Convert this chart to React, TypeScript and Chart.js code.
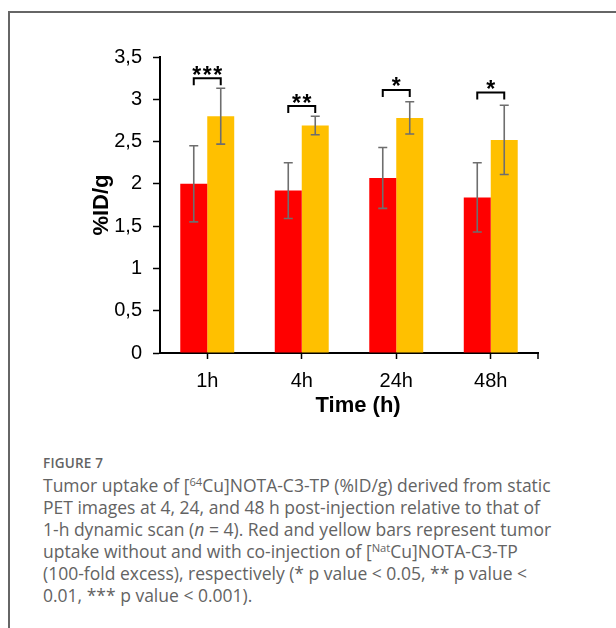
import React, { useEffect, useRef } from "react";
import { Chart, registerables } from "chart.js";

Chart.register(...registerables);

const categories = ["1h", "4h", "24h", "48h"];
const redValues = [2.0, 1.92, 2.07, 1.84];
const redErrors = [0.45, 0.33, 0.36, 0.41];
const yellowValues = [2.8, 2.69, 2.78, 2.52];
const yellowErrors = [0.33, 0.11, 0.19, 0.41];
const significance = ["***", "**", "*", "*"];
const bracketLevels = [3.25, 2.92, 3.11, 3.08];
const yTicks = [0, 0.5, 1, 1.5, 2, 2.5, 3, 3.5];
const yTitle = "%ID/g";
const xTitle = "Time (h)";

const FONT = "'Liberation Sans', Arial, sans-serif";

const overlayPlugin = {
  id: "overlay",
  afterDraw(chart: any) {
    const ctx: CanvasRenderingContext2D = chart.ctx;
    const ys = chart.scales.y;
    const area = chart.chartArea;
    ctx.save();

    // error bars
    const sets: [number[], number[]][] = [
      [redValues, redErrors],
      [yellowValues, yellowErrors],
    ];
    sets.forEach(([vals, errs], di) => {
      const meta = chart.getDatasetMeta(di);
      meta.data.forEach((bar: any, i: number) => {
        const cx = bar.x;
        const top = ys.getPixelForValue(vals[i] + errs[i]);
        const bot = ys.getPixelForValue(vals[i] - errs[i]);
        ctx.strokeStyle = "#6e6e6e";
        ctx.lineWidth = 1.6;
        ctx.beginPath();
        ctx.moveTo(cx, top);
        ctx.lineTo(cx, bot);
        ctx.moveTo(cx - 4.5, top);
        ctx.lineTo(cx + 4.5, top);
        ctx.moveTo(cx - 4.5, bot);
        ctx.lineTo(cx + 4.5, bot);
        ctx.stroke();
      });
    });

    // significance brackets
    const m0 = chart.getDatasetMeta(0);
    const m1 = chart.getDatasetMeta(1);
    ctx.font = `bold 23px ${FONT}`;
    const mt = ctx.measureText("*");
    const asc = mt.actualBoundingBoxAscent;
    const desc = mt.actualBoundingBoxDescent;
    categories.forEach((_, i) => {
      const x1 = m0.data[i].x;
      const x2 = m1.data[i].x;
      const yl = ys.getPixelForValue(bracketLevels[i]);
      ctx.strokeStyle = "#000";
      ctx.lineWidth = 2;
      ctx.beginPath();
      ctx.moveTo(x1, yl + 7);
      ctx.lineTo(x1, yl);
      ctx.lineTo(x2, yl);
      ctx.lineTo(x2, yl + 7);
      ctx.stroke();
      const n = significance[i].length;
      const cxm = (x1 + x2) / 2;
      const cy = yl - 8;
      ctx.fillStyle = "#000";
      ctx.textAlign = "center";
      ctx.textBaseline = "alphabetic";
      for (let k = 0; k < n; k++) {
        const sx = cxm + (k - (n - 1) / 2) * 10.5;
        ctx.fillText("*", sx, cy - (desc - asc) / 2);
      }
    });

    // right end tick of x axis
    ctx.strokeStyle = "#000";
    ctx.lineWidth = 1.5;
    ctx.beginPath();
    ctx.moveTo(area.right, area.bottom);
    ctx.lineTo(area.right, area.bottom + 6);
    ctx.stroke();

    // axis titles
    ctx.fillStyle = "#000";
    ctx.font = `bold 22px ${FONT}`;
    ctx.textAlign = "center";
    ctx.textBaseline = "middle";
    ctx.fillText(xTitle, area.left + (area.right - area.left) * 0.524, area.bottom + 53);
    ctx.save();
    ctx.translate(area.left - 58, (area.top + area.bottom) / 2);
    ctx.rotate(-Math.PI / 2);
    ctx.fillText(yTitle, 0, 0);
    ctx.restore();

    ctx.restore();
  },
};

function ChartBox() {
  const ref = useRef<HTMLCanvasElement | null>(null);
  useEffect(() => {
    if (!ref.current) return;
    const chart = new Chart(ref.current, {
      type: "bar",
      data: {
        labels: categories,
        datasets: [
          {
            label: "without",
            data: redValues,
            backgroundColor: "#ff0000",
            borderWidth: 0,
            barPercentage: 1,
            categoryPercentage: 0.571,
          },
          {
            label: "with",
            data: yellowValues,
            backgroundColor: "#ffc000",
            borderWidth: 0,
            barPercentage: 1,
            categoryPercentage: 0.571,
          },
        ],
      },
      options: {
        responsive: false,
        animation: false,
        devicePixelRatio: 1,
        layout: { padding: { left: 0, right: 78, top: 57, bottom: 0 } },
        plugins: {
          legend: { display: false },
          tooltip: { enabled: false },
          title: { display: false },
        },
        scales: {
          x: {
            z: 1,
            offset: true,
            grid: {
              offset: false,
              drawOnChartArea: false,
              drawTicks: true,
              tickLength: 6,
              tickColor: "#000",
              tickWidth: 1.5,
            },
            border: { display: true, color: "#000", width: 2 },
            ticks: {
              color: "#000",
              font: { family: FONT, size: 20 },
              padding: 10,
              maxRotation: 0,
            },
            afterFit: (s: any) => {
              s.height = 77;
            },
          },
          y: {
            z: 1,
            min: 0,
            max: 3.5,
            grid: {
              drawOnChartArea: false,
              drawTicks: true,
              tickLength: 7,
              tickColor: "#000",
              tickWidth: 1.5,
            },
            border: { display: true, color: "#000", width: 2 },
            afterBuildTicks: (s: any) => {
              s.ticks = yTicks.map((v) => ({ value: v }));
            },
            ticks: {
              color: "#000",
              font: { family: FONT, size: 20 },
              padding: 11,
              callback: (v: any) => String(v).replace(".", ","),
            },
            afterFit: (s: any) => {
              s.width = 160;
            },
          },
        },
      },
      plugins: [overlayPlugin],
    });
    return () => chart.destroy();
  }, []);
  return (
    <canvas
      ref={ref}
      width={616}
      height={430}
      style={{ position: "absolute", left: 0, top: 0, width: 616, height: 430 }}
    />
  );
}

export default function App() {
  useEffect(() => {
    document.body.style.overflow = "hidden";
  }, []);
  const sup: React.CSSProperties = {
    fontSize: "0.64em",
    position: "relative",
    top: "-0.55em",
    lineHeight: 0,
  };
  return (
    <div>
      <div
        style={{
          position: "absolute",
          left: 8,
          top: 11,
          width: 608,
          height: 617,
          boxSizing: "border-box",
          borderTop: "2px solid #666",
          borderLeft: "2px solid #666",
          background: "#fff",
        }}
      />
      <ChartBox />
      <div
        style={{
          position: "absolute",
          left: 43,
          top: 455,
          fontFamily: "'Open Sans', sans-serif",
          color: "#636363",
          whiteSpace: "nowrap",
        }}
      >
        <div style={{ fontSize: 13.5, fontWeight: 600, lineHeight: "16px", letterSpacing: 0.2 }}>
          FIGURE 7
        </div>
        <div style={{ fontSize: 17.5, lineHeight: "22px", marginTop: 3, fontWeight: 400 }}>
          Tumor uptake of [<span style={sup}>64</span>Cu]NOTA-C3-TP (%ID/g) derived from static
          <br />
          PET images at 4, 24, and 48 h post-injection relative to that of
          <br />
          1-h dynamic scan (<i>n</i> = 4). Red and yellow bars represent tumor
          <br />
          uptake without and with co-injection of [<span style={sup}>Nat</span>Cu]NOTA-C3-TP
          <br />
          (100-fold excess), respectively (* p value &lt; 0.05, ** p value &lt;
          <br />
          0.01, *** p value &lt; 0.001).
        </div>
      </div>
    </div>
  );
}
